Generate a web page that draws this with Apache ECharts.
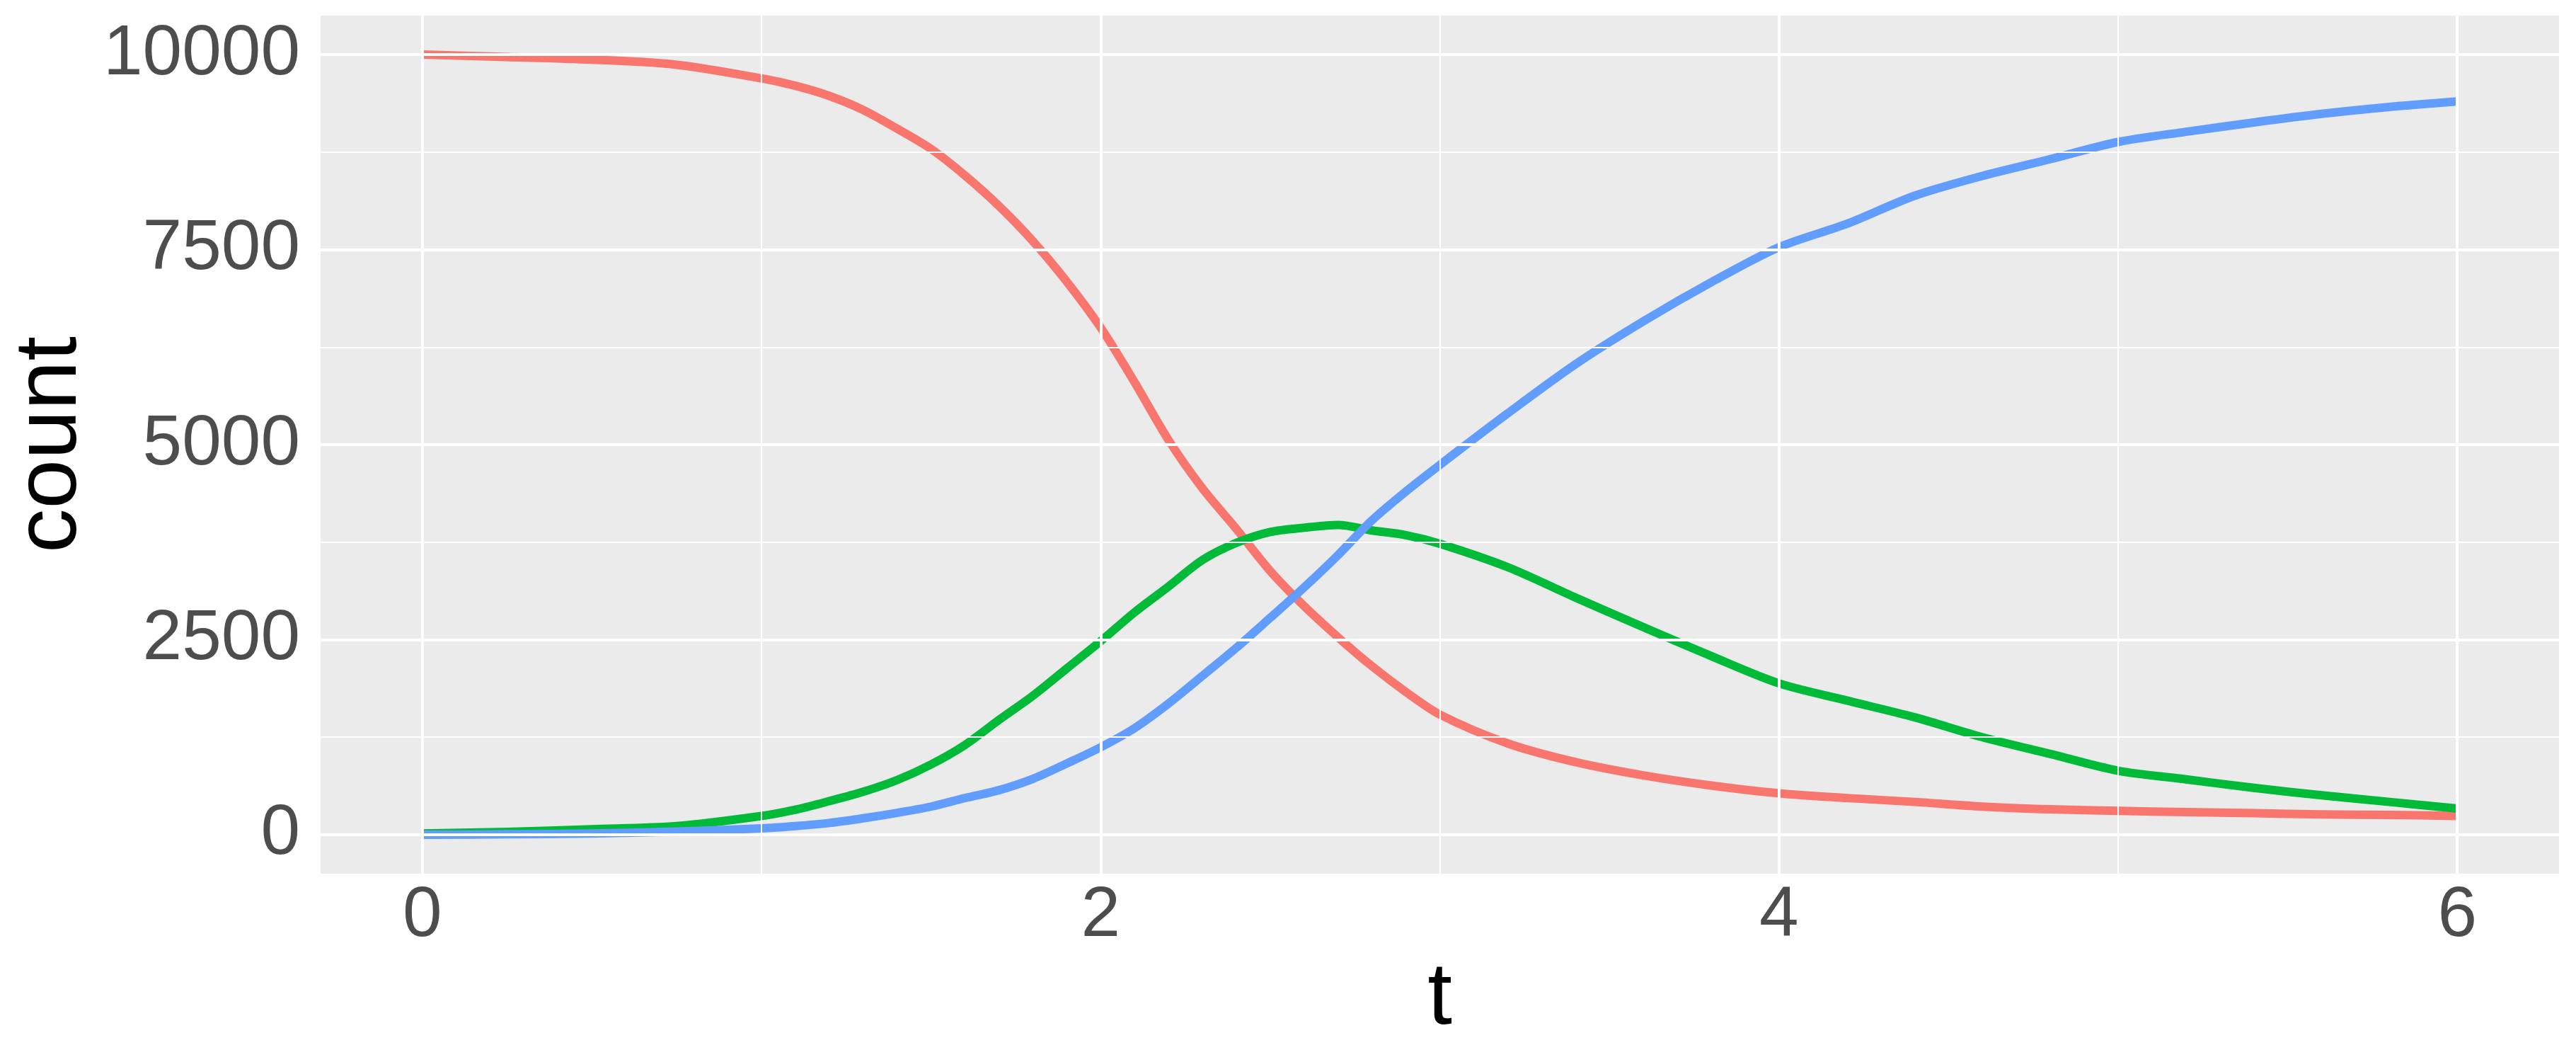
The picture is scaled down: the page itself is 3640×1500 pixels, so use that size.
<!DOCTYPE html>
<html>
<head>
<meta charset="utf-8">
<script src="https://cdn.jsdelivr.net/npm/echarts@6/dist/echarts.min.js"></script>
<style>
html,body{margin:0;padding:0;background:#ffffff;}
#chart{width:3640px;height:1500px;}
</style>
</head>
<body>
<div id="chart"></div>
<script>
// time points
const tValues = [0, 0.25, 0.5, 0.75, 1.0, 1.1, 1.2, 1.3, 1.4, 1.5, 1.6, 1.7, 1.8, 1.9, 2.0, 2.1, 2.2, 2.3, 2.4, 2.5, 2.6, 2.7, 2.8, 2.9, 3.0, 3.2, 3.4, 3.6, 3.8, 4.0, 4.2, 4.4, 4.6, 4.8, 5.0, 5.2, 5.4, 5.6, 5.8, 6.0];
// susceptible (red)
const sValues = [10000, 9970, 9935, 9870, 9695, 9600, 9470, 9290, 9050, 8790, 8450, 8060, 7610, 7090, 6500, 5800, 5060, 4440, 3920, 3380, 2930, 2530, 2160, 1830, 1540, 1170, 930, 760, 630, 530, 470, 420, 360, 325, 305, 290, 275, 260, 253, 240];
// infected (green)
const iValues = [15, 35, 70, 110, 240, 320, 430, 550, 700, 900, 1150, 1470, 1780, 2130, 2480, 2850, 3180, 3520, 3740, 3880, 3935, 3970, 3900, 3840, 3730, 3430, 3040, 2660, 2290, 1940, 1720, 1505, 1250, 1035, 820, 710, 600, 505, 420, 335];
// recovered (blue)
const rValues = [0, 5, 15, 40, 80, 110, 150, 210, 280, 360, 470, 570, 715, 912, 1120, 1365, 1680, 2035, 2395, 2780, 3170, 3585, 4030, 4400, 4740, 5400, 6030, 6580, 7080, 7530, 7830, 8190, 8445, 8660, 8880, 9010, 9130, 9240, 9330, 9400];

const xTicks = [0, 2, 4, 6];
const xMinor = [1, 3, 5];
const yTicks = [0, 2500, 5000, 7500, 10000];
const yMinor = [1250, 3750, 6250, 8750];

const FONT = '"Liberation Sans", Arial, sans-serif';
const pair = (ys) => tValues.map((t, i) => [t, ys[i]]);

const gridLines = [];
xTicks.forEach(v => gridLines.push({xAxis: v, lineStyle: {color: '#ffffff', width: 4, type: 'solid'}}));
xMinor.forEach(v => gridLines.push({xAxis: v, lineStyle: {color: '#ffffff', width: 2, type: 'solid'}}));
yTicks.forEach(v => gridLines.push({yAxis: v, lineStyle: {color: '#ffffff', width: 4, type: 'solid'}}));
yMinor.forEach(v => gridLines.push({yAxis: v, lineStyle: {color: '#ffffff', width: 2, type: 'solid'}}));

const lineSeries = (name, color, ys) => ({
  name: name,
  type: 'line',
  data: pair(ys),
  showSymbol: false,
  symbol: 'none',
  smooth: 0.3,
  z: 3,
  lineStyle: {color: color, width: 12, cap: 'butt', join: 'round'},
  itemStyle: {color: color},
  emphasis: {disabled: true},
  animation: false
});

const chart = echarts.init(document.getElementById('chart'), null, {renderer: 'canvas'});
chart.setOption({
  backgroundColor: '#ffffff',
  animation: false,
  grid: {
    left: 453, right: 24, top: 22, bottom: 266,
    containLabel: false, outerBoundsMode: 'none',
    show: true, backgroundColor: '#EBEBEB', borderWidth: 0
  },
  xAxis: {
    type: 'value', min: -0.3, max: 6.3,
    name: 't', nameLocation: 'middle', nameGap: 105,
    nameTextStyle: {fontFamily: FONT, fontSize: 125, color: '#000000'},
    axisLine: {show: false},
    axisTick: {show: true, customValues: xTicks, length: 11, lineStyle: {color: '#333333', width: 4}},
    axisLabel: {customValues: xTicks, fontFamily: FONT, fontSize: 100, color: '#4D4D4D', margin: 10,
      formatter: (v) => String(v)},
    splitLine: {show: false}
  },
  yAxis: {
    type: 'value', min: -500, max: 10500,
    name: 'count', nameLocation: 'middle', nameRotate: 90, nameGap: 315,
    nameTextStyle: {fontFamily: FONT, fontSize: 125, color: '#000000'},
    axisLine: {show: false},
    axisTick: {show: true, customValues: yTicks, length: 11, lineStyle: {color: '#333333', width: 4}},
    axisLabel: {customValues: yTicks, fontFamily: FONT, fontSize: 100, color: '#4D4D4D', margin: 29,
      formatter: (v) => String(v)},
    splitLine: {show: false}
  },
  series: [
    {
      type: 'line', data: [], z: 1, silent: true,
      markLine: {silent: true, symbol: ['none', 'none'], label: {show: false}, animation: false,
        emphasis: {disabled: true}, data: gridLines}
    },
    lineSeries('S', '#F8766D', sValues),
    lineSeries('I', '#00BA38', iValues),
    lineSeries('R', '#619CFF', rValues)
  ]
});
</script>
</body>
</html>
